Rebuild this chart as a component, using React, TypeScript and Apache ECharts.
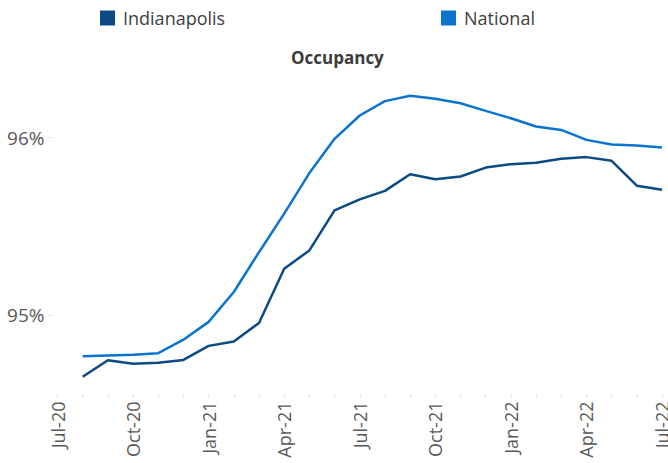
import React, { useEffect, useRef } from "react";
import * as echarts from "echarts";

const months = [
  "Jul-20", "Aug-20", "Sep-20", "Oct-20", "Nov-20", "Dec-20",
  "Jan-21", "Feb-21", "Mar-21", "Apr-21", "May-21", "Jun-21",
  "Jul-21", "Aug-21", "Sep-21", "Oct-21", "Nov-21", "Dec-21",
  "Jan-22", "Feb-22", "Mar-22", "Apr-22", "May-22", "Jun-22", "Jul-22",
];

const indianapolis = [
  null, 94.654, 94.747, 94.727, 94.733, 94.749,
  94.828, 94.852, 94.957, 95.262, 95.365, 95.590,
  95.652, 95.700, 95.794, 95.766, 95.781, 95.831,
  95.850, 95.858, 95.881, 95.890, 95.869, 95.729, 95.707,
];

const national = [
  null, 94.770, 94.774, 94.778, 94.787, 94.863,
  94.963, 95.131, 95.355, 95.572, 95.800, 95.993,
  96.124, 96.205, 96.235, 96.218, 96.193, 96.150,
  96.109, 96.062, 96.043, 95.987, 95.961, 95.955, 95.944,
];

const yTicks = [95, 96];

const FONT = "'Open Sans', 'Noto Sans', sans-serif";

export default function App() {
  const ref = useRef<HTMLDivElement>(null);

  useEffect(() => {
    if (!ref.current) return;
    const chart = echarts.init(ref.current, null, { renderer: "svg" });
    chart.setOption({
      animation: false,
      backgroundColor: "#ffffff",
      textStyle: { fontFamily: FONT },
      title: {
        text: "Occupancy",
        left: 291,
        top: 48.5,
        padding: 0,
        textStyle: {
          fontFamily: FONT,
          fontSize: 17,
          fontWeight: "bold",
          color: "#3b3b3b",
        },
      },
      legend: [
        {
          data: ["Indianapolis"],
          left: 100,
          top: 9,
          padding: 0,
          icon: "rect",
          itemWidth: 15,
          itemHeight: 15,
          textStyle: {
            fontFamily: FONT,
            fontSize: 18,
            color: "#404040",
            padding: [0, 0, 0, 3],
          },
        },
        {
          data: ["National"],
          left: 441,
          top: 9,
          padding: 0,
          icon: "rect",
          itemWidth: 15,
          itemHeight: 15,
          textStyle: {
            fontFamily: FONT,
            fontSize: 18,
            color: "#404040",
            padding: [0, 0, 0, 3],
          },
        },
      ],
      grid: {
        left: 57.5,
        right: 6,
        top: 48.7,
        bottom: 69.5,
        containLabel: false,
        outerBoundsMode: "none",
      },
      xAxis: {
        type: "category",
        data: months,
        boundaryGap: false,
        axisLine: { show: false },
        axisTick: {
          show: true,
          interval: 0,
          length: 4,
          lineStyle: { color: "#e3e3e3", width: 1 },
        },
        axisLabel: {
          interval: 2,
          rotate: 90,
          margin: 8,
          fontFamily: FONT,
          fontSize: 18,
          color: "#595959",
        },
        splitLine: { show: false },
      },
      yAxis: {
        type: "value",
        min: 94.56,
        max: 96.5,
        offset: 5,
        axisLine: { show: false },
        axisTick: {
          show: true,
          length: 4,
          customValues: yTicks,
          lineStyle: { color: "#e3e3e3", width: 1 },
        },
        axisLabel: {
          customValues: yTicks,
          margin: 8,
          fontFamily: FONT,
          fontSize: 19,
          color: "#595959",
          formatter: (v: number) => `${Math.round(v)}%`,
        },
        splitLine: { show: false },
      },
      series: [
        {
          name: "Indianapolis",
          type: "line",
          data: indianapolis,
          symbol: "none",
          lineStyle: { width: 2.5, color: "#0b4a84" },
          itemStyle: { color: "#0b4a84" },
        },
        {
          name: "National",
          type: "line",
          data: national,
          symbol: "none",
          lineStyle: { width: 2.5, color: "#0a74cf" },
          itemStyle: { color: "#0a74cf" },
        },
      ],
    });
    return () => chart.dispose();
  }, []);

  return (
    <div
      ref={ref}
      style={{ position: "fixed", left: 0, top: 0, width: 668, height: 463 }}
    />
  );
}
